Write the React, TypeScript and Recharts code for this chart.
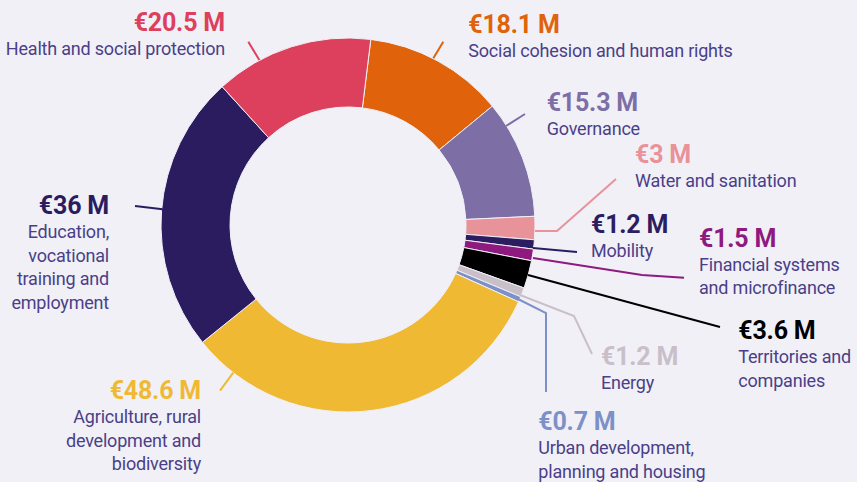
import React from "react";
import { PieChart, Pie, Cell } from "recharts";

const categories = [
  "Social cohesion and human rights",
  "Governance",
  "Water and sanitation",
  "Mobility",
  "Financial systems and microfinance",
  "Territories and companies",
  "Energy",
  "Urban development, planning and housing",
  "Agriculture, rural development and biodiversity",
  "Education, vocational training and employment",
  "Health and social protection",
];

const values = [18.1, 15.3, 3, 1.2, 1.5, 3.6, 1.2, 0.7, 48.6, 36, 20.5];

const labelLines = [
  ["Social cohesion and human rights"],
  ["Governance"],
  ["Water and sanitation"],
  ["Mobility"],
  ["Financial systems", "and microfinance"],
  ["Territories and", "companies"],
  ["Energy"],
  ["Urban development,", "planning and housing"],
  ["Agriculture, rural", "development and", "biodiversity"],
  ["Education,", "vocational", "training and", "employment"],
  ["Health and social protection"],
];

const colors = [
  "#E0620A",
  "#7D6FA6",
  "#E8929A",
  "#2C1D60",
  "#8E1A80",
  "#000000",
  "#C9BFC9",
  "#7C91C8",
  "#F0B933",
  "#2B1C5F",
  "#DD405C",
];

const BG = "#F1F0F7";
const TEXT = "#4A3F88";

// Label layout, offsets relative to the pie centre
type Layout = { pts: number[][]; x: number; anchor: "start" | "end"; y: number };
const labelLayout: Layout[] = [
  { pts: [[95.3, -183.3], [85.3, -166.7]], x: 120.3, anchor: "start", y: -191.7 },
  { pts: [[158, -99], [177, -111]], x: 198.7, anchor: "start", y: -114.3 },
  { pts: [[187, 6], [209, 6], [268, -46]], x: 287, anchor: "start", y: -62.3 },
  { pts: [[185, 23], [229, 27]], x: 243, anchor: "start", y: 8.3 },
  { pts: [[185, 33], [294, 50], [336, 52.7]], x: 351, anchor: "start", y: 21.7 },
  { pts: [[180, 50], [372, 102]], x: 390.3, anchor: "start", y: 114.3 },
  { pts: [[172, 70], [226, 91], [244, 129]], x: 253, anchor: "start", y: 140 },
  { pts: [[168, 73], [198, 88], [198, 167]], x: 190.3, anchor: "start", y: 205 },
  { pts: [[-128, 165.7], [-114.7, 147.7]], x: -147, anchor: "end", y: 174.3 },
  { pts: [[-213, -19], [-185.3, -15.7]], x: -239, anchor: "end", y: -10.7 },
  { pts: [[-99.7, -183.3], [-88.7, -165]], x: -123, anchor: "end", y: -194 },
];

const data = categories.map((name, i) => ({ name, value: values[i] }));

const renderLabel = (props: any) => {
  const { cx, cy, index } = props;
  const l = labelLayout[index];
  const color = colors[index];
  const pts = l.pts.map(([x, y]) => `${cx + x},${cy + y}`).join(" ");
  return (
    <g key={`lbl-${index}`}>
      <polyline points={pts} fill="none" stroke={color} strokeWidth={2} />
      <text
        x={cx + l.x}
        y={cy + l.y}
        textAnchor={l.anchor}
        fill={color}
        fontFamily="Roboto"
        fontWeight={700}
        fontSize={25}
        letterSpacing={-0.2}
      >
        {`€${values[index]} M`}
      </text>
      {labelLines[index].map((line, j) => (
        <text
          key={j}
          x={cx + l.x}
          y={cy + l.y + 24 + j * 23.5}
          textAnchor={l.anchor}
          fill={TEXT}
          fontFamily="Roboto"
          fontSize={18}
          letterSpacing={-0.2}
        >
          {line}
        </text>
      ))}
    </g>
  );
};

export default function App() {
  return (
    <div style={{ position: "absolute", left: 0, top: 0, width: 857, height: 482, background: BG }}>
      <PieChart width={857} height={482} margin={{ top: 0, right: 0, bottom: 0, left: 0 }}>
        <Pie
          data={data}
          dataKey="value"
          nameKey="name"
          cx={348}
          cy={225}
          innerRadius={118}
          outerRadius={187}
          startAngle={83}
          endAngle={-277}
          stroke={BG}
          strokeWidth={1}
          label={renderLabel}
          labelLine={false}
          isAnimationActive={false}
        >
          {data.map((d, i) => (
            <Cell key={d.name} fill={colors[i]} />
          ))}
        </Pie>
      </PieChart>
    </div>
  );
}
